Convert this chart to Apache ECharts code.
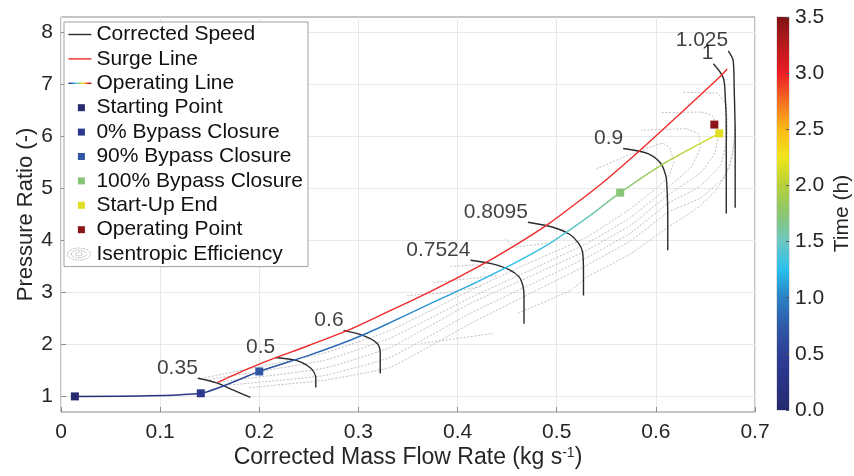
<!DOCTYPE html>
<html><head><meta charset="utf-8">
<script src="https://cdn.jsdelivr.net/npm/echarts@6/dist/echarts.min.js"></script>
<style>html,body{margin:0;padding:0;background:#fff}#c{width:854px;height:476px}</style>
</head><body><div id="c"></div>
<script>
// ---------- tick labels ----------
const X_TICKS = [0, 0.1, 0.2, 0.3, 0.4, 0.5, 0.6, 0.7];
const Y_TICKS = [1, 2, 3, 4, 5, 6, 7, 8];
const TIME_TICKS = [0, 0.5, 1, 1.5, 2, 2.5, 3, 3.5];

// ---------- colormap (time 0..3.5 h, step 0.25 h) ----------
const CMAP = ['#262a6e','#2a3386','#2e3f95','#305aa8','#2c80c4','#29c0ee','#6cc6c3',
              '#8bc66f','#b6d03a','#f0e51c','#fbb917','#f36f22','#ec1c24','#b8191d','#7e1315'];

// ---------- operating line ----------
const OP_X = [0.014, 0.141, 0.200, 0.250, 0.289, 0.322, 0.373, 0.413, 0.453, 0.491, 0.530, 0.564, 0.608, 0.664];
const OP_Y = [1.00, 1.06, 1.48, 1.79, 2.06, 2.33, 2.79, 3.14, 3.52, 3.92, 4.43, 4.92, 5.48, 6.06];
const OP_T = [0, 0.35, 0.70, 0.80, 0.88, 0.95, 1.10, 1.17, 1.25, 1.35, 1.52, 1.72, 1.92, 2.18];

// ---------- surge line ----------
const SURGE_X = [0.158, 0.201, 0.250, 0.289, 0.322, 0.373, 0.426, 0.460, 0.491, 0.520, 0.550, 0.585, 0.620, 0.663, 0.672];
const SURGE_Y = [1.27, 1.63, 1.98, 2.27, 2.56, 3.02, 3.55, 3.93, 4.31, 4.72, 5.17, 5.75, 6.36, 7.12, 7.30];

// ---------- markers [x, y] and their time (h) ----------
const START_POINT = [0.014, 1.00];
const BYPASS_0 = [0.141, 1.06];
const BYPASS_90 = [0.200, 1.48];
const BYPASS_100 = [0.564, 4.92];
const STARTUP_END = [0.664, 6.06];
const OPERATING_POINT = [0.659, 6.23];
const MARKER_NAMES = ['Starting Point','0% Bypass Closure','90% Bypass Closure','100% Bypass Closure','Start-Up End','Operating Point'];
const MARKER_TIMES = [0, 0.35, 0.70, 1.72, 2.18, 3.45];

// ---------- corrected speed lines ----------
const SPEED_LABELS = ['0.35', '0.5', '0.6', '0.7524', '0.8095', '0.9', '1', '1.025'];
const SPEED_035 = [[0.138,1.35],[0.157,1.26],[0.174,1.12],[0.191,0.98]];
const SPEED_05 = [[0.216,1.75],[0.238,1.69],[0.252,1.54],[0.257,1.35],[0.257,1.17]];
const SPEED_06 = [[0.285,2.27],[0.305,2.17],[0.319,2.02],[0.322,1.83],[0.322,1.44]];
const SPEED_07524 = [[0.413,3.62],[0.435,3.55],[0.452,3.44],[0.462,3.30],[0.466,3.12],[0.467,2.92],[0.467,2.40]];
const SPEED_08095 = [[0.471,4.35],[0.497,4.25],[0.513,4.12],[0.522,3.95],[0.526,3.78],[0.527,3.40],[0.527,2.94]];
const SPEED_09 = [[0.567,5.77],[0.592,5.67],[0.605,5.48],[0.610,5.25],[0.611,5.10],[0.612,4.50],[0.612,3.81]];
const SPEED_1 = [[0.658,7.40],[0.668,7.13],[0.670,6.75],[0.671,6.20],[0.671,4.52]];
const SPEED_1025 = [[0.673,7.65],[0.678,7.46],[0.679,6.94],[0.680,6.00],[0.680,4.63]];
const SPEED_CURVES = [SPEED_035, SPEED_05, SPEED_06, SPEED_07524, SPEED_08095, SPEED_09, SPEED_1, SPEED_1025];

// ---------- isentropic efficiency contours ----------
const EFF_1 = [[0.145,1.36],[0.265,1.83],[0.332,2.27],[0.413,3.04],[0.470,3.55],[0.530,4.06],[0.575,4.62],[0.600,5.00],[0.612,5.21],[0.618,5.50],[0.614,5.78],[0.607,5.87],[0.575,5.66],[0.540,5.38]];
const EFF_2 = [[0.150,1.33],[0.265,1.69],[0.332,2.12],[0.413,2.90],[0.470,3.40],[0.530,3.94],[0.575,4.45],[0.612,5.02],[0.635,5.40],[0.645,5.80],[0.643,6.05],[0.630,6.15],[0.585,6.12]];
const EFF_3 = [[0.160,1.28],[0.265,1.54],[0.332,1.94],[0.413,2.79],[0.470,3.28],[0.530,3.81],[0.575,4.30],[0.612,4.87],[0.645,5.30],[0.660,5.70],[0.663,6.10],[0.657,6.40],[0.645,6.47],[0.605,6.46]];
const EFF_4 = [[0.170,1.22],[0.265,1.40],[0.332,1.75],[0.413,2.60],[0.470,3.12],[0.530,3.67],[0.575,4.15],[0.612,4.71],[0.645,5.05],[0.665,5.45],[0.672,6.00],[0.671,6.60],[0.662,6.83],[0.627,6.85]];
const EFF_5 = [[0.190,1.17],[0.265,1.31],[0.332,1.56],[0.413,2.40],[0.470,2.95],[0.530,3.52],[0.575,4.00],[0.612,4.54],[0.645,4.82],[0.668,5.20],[0.677,5.60],[0.680,6.20]];
const EFF_6 = [[0.461,2.60],[0.514,3.04],[0.530,3.29],[0.575,3.75],[0.612,4.25],[0.640,4.60],[0.660,4.95],[0.674,5.40],[0.679,5.92]];
const EFF_7 = [[0.363,2.02],[0.436,2.21]];
const EFF_8 = [[0.349,2.94],[0.390,3.00],[0.425,3.12]];
const EFF_9 = [[0.376,3.19],[0.410,3.26],[0.440,3.33]];
const EFF_10 = [[0.393,3.50],[0.420,3.53],[0.430,3.45]];
const EFF_11 = [[0.448,4.04],[0.457,3.87],[0.490,3.95]];
const EFF_CONTOURS = [EFF_1, EFF_2, EFF_3, EFF_4, EFF_5, EFF_6, EFF_7, EFF_8, EFF_9, EFF_10, EFF_11];

// ---------- helpers ----------
function hexRgb(h){ return [parseInt(h.slice(1,3),16), parseInt(h.slice(3,5),16), parseInt(h.slice(5,7),16)]; }
function cmap(t){
  const f = Math.max(0, Math.min(1, t / 3.5)) * (CMAP.length - 1);
  const i = Math.min(Math.floor(f), CMAP.length - 2), r = f - i;
  const a = hexRgb(CMAP[i]), b = hexRgb(CMAP[i + 1]);
  return 'rgb(' + a.map((v, k) => Math.round(v + (b[k] - v) * r)).join(',') + ')';
}
const FONT = '"Liberation Sans", Arial, Helvetica, sans-serif';
const TXT = '#262626';
const opMin = Math.min(...OP_X), opMax = Math.max(...OP_X);
const opGradient = { type: 'linear', x: 0, y: 0, x2: 1, y2: 0,
  colorStops: OP_X.map((x, i) => ({ offset: (x - opMin) / (opMax - opMin), color: cmap(OP_T[i]) })) };
const cbarGradient = { type: 'linear', x: 0, y: 1, x2: 0, y2: 0,
  colorStops: CMAP.map((c, i) => ({ offset: i / (CMAP.length - 1), color: c })) };
const legendGradient = { type: 'linear', x: 0, y: 0, x2: 1, y2: 0,
  colorStops: CMAP.map((c, i) => ({ offset: i / (CMAP.length - 1), color: c })) };

// ---------- series ----------
const series = [];
EFF_CONTOURS.forEach(c => series.push({
  type: 'line', name: 'Isentropic Efficiency', data: c, symbol: 'none', smooth: 0.12,
  lineStyle: { color: '#b0b0b0', width: 0.8, type: [2, 1.6] }, silent: true, z: 1
}));
SPEED_CURVES.forEach(c => series.push({
  type: 'line', name: 'Corrected Speed', data: c, symbol: 'none', smooth: 0.3,
  lineStyle: { color: '#2b2b2b', width: 1.4 }, silent: true, z: 3
}));
series.push({
  type: 'line', name: 'Surge Line', data: SURGE_X.map((x, i) => [x, SURGE_Y[i]]), symbol: 'none', smooth: 0.3,
  lineStyle: { color: '#ef2b2b', width: 1.4 }, silent: true, z: 4
});
series.push({
  type: 'line', name: 'Operating Line', data: OP_X.map((x, i) => [x, OP_Y[i]]), symbol: 'none', smooth: 0.2,
  lineStyle: { color: opGradient, width: 1.5 }, itemStyle: { color: cmap(1.2) }, silent: true, z: 5
});
[START_POINT, BYPASS_0, BYPASS_90, BYPASS_100, STARTUP_END, OPERATING_POINT].forEach((p, i) => series.push({
  type: 'scatter', name: MARKER_NAMES[i], data: [p], symbol: 'rect', symbolSize: 8,
  itemStyle: { color: cmap(MARKER_TIMES[i]), opacity: 1 }, silent: true, z: 6
}));
series.push({
  type: 'scatter', name: 'speedLabels', data: SPEED_CURVES.map(c => c[0]), symbolSize: 1,
  itemStyle: { color: 'rgba(0,0,0,0)' }, silent: true, z: 7,
  label: { show: true, position: 'inside', align: 'right', verticalAlign: 'bottom',
    formatter: p => SPEED_LABELS[p.dataIndex], fontSize: 21, fontFamily: FONT, color: '#111' }
});
series.push({
  type: 'bar', name: 'colorbar', xAxisIndex: 1, yAxisIndex: 1, data: [TIME_TICKS[TIME_TICKS.length - 1]],
  barWidth: '100%', itemStyle: { color: cbarGradient }, silent: true
});

// ---------- legend ----------
const LINE_ICON = 'path://M0,0M2,6.3H25V7.7H2ZM25,14';
const SQ_ICON = 'path://M0,0M11.5,3.5H18.5V10.5H11.5ZM25,14';
const ELL_ICON = 'path://M0,0M25,14M1,7A11.5,6 0 1,1 24,7A11.5,6 0 1,1 1,7ZM5,7A7.5,3.8 0 1,1 20,7A7.5,3.8 0 1,1 5,7ZM9,7A3.5,1.8 0 1,1 16,7A3.5,1.8 0 1,1 9,7Z';
const legendData = [
  { name: 'Corrected Speed', icon: LINE_ICON, itemStyle: { color: '#2b2b2b', borderWidth: 0, opacity: 1 } },
  { name: 'Surge Line', icon: LINE_ICON, itemStyle: { color: '#ef2b2b', borderWidth: 0, opacity: 1 } },
  { name: 'Operating Line', icon: LINE_ICON, itemStyle: { color: legendGradient, borderWidth: 0, opacity: 1 } }
].concat(MARKER_NAMES.map((n, i) => ({ name: n, icon: SQ_ICON, itemStyle: { color: cmap(MARKER_TIMES[i]), borderWidth: 0, opacity: 1 } })))
 .concat([{ name: 'Isentropic Efficiency', icon: ELL_ICON,
   itemStyle: { color: 'rgba(0,0,0,0)', borderColor: '#8c8c8c', borderWidth: 0.8, borderType: 'dotted', opacity: 1 } }]);

const chart = echarts.init(document.getElementById('c'), null, { renderer: 'canvas' });
chart.setOption({
  animation: false,
  backgroundColor: '#fff',
  textStyle: { fontFamily: FONT },
  grid: [
    { left: 61, right: 99, top: 17, bottom: 64, show: true, borderColor: '#8a8a8a', borderWidth: 1, backgroundColor: 'rgba(0,0,0,0)' },
    { left: 777, width: 12, top: 17, bottom: 66, show: true, borderColor: '#9a9a9a', borderWidth: 0.6 }
  ],
  legend: {
    orient: 'vertical', left: 64, top: 22, padding: [2, 5, 2, 2], itemGap: 3.4,
    itemWidth: 25, itemHeight: 14, backgroundColor: '#fff', borderColor: '#a0a0a0', borderWidth: 1,
    textStyle: { fontSize: 21, fontFamily: FONT, color: '#111', lineHeight: 21 },
    selectedMode: false, data: legendData
  },
  xAxis: [
    { gridIndex: 0, type: 'value', min: X_TICKS[0], max: X_TICKS[X_TICKS.length - 1], interval: 0.1,
      name: 'Corrected Mass Flow Rate (kg s{sup|-1})', nameLocation: 'middle', nameGap: 34, nameMoveOverlap: false,
      nameTextStyle: { fontSize: 23, color: TXT, fontFamily: FONT,
        rich: { sup: { fontSize: 14, verticalAlign: 'top', color: TXT, fontFamily: FONT, padding: [0, 0, 8, 0] } } },
      axisLine: { show: false },
      axisTick: { show: true, inside: true, length: 5, lineStyle: { color: '#8a8a8a' } },
      axisLabel: { fontSize: 21, color: TXT, fontFamily: FONT, margin: 10 },
      splitLine: { show: true, lineStyle: { color: '#e9e9e9', width: 1 } } },
    { gridIndex: 1, type: 'category', data: ['t'], show: false }
  ],
  yAxis: [
    { gridIndex: 0, type: 'value', min: 0.7, max: 8.3,
      name: 'Pressure Ratio (-)', nameLocation: 'middle', nameGap: 24, nameMoveOverlap: false,
      nameTextStyle: { fontSize: 22, color: TXT, fontFamily: FONT },
      axisLine: { show: false },
      axisTick: { show: true, inside: true, length: 5, customValues: Y_TICKS, lineStyle: { color: '#8a8a8a' } },
      axisLabel: { fontSize: 21, color: TXT, fontFamily: FONT, margin: 8, customValues: Y_TICKS },
      splitLine: { show: true, lineStyle: { color: '#e9e9e9', width: 1 } } },
    { gridIndex: 1, type: 'value', position: 'right', min: TIME_TICKS[0], max: TIME_TICKS[TIME_TICKS.length - 1], interval: 0.5,
      name: 'Time (h)', nameLocation: 'middle', nameGap: 43, nameMoveOverlap: false,
      nameTextStyle: { fontSize: 21, color: TXT, fontFamily: FONT },
      axisLine: { show: false }, z: 5,
      axisTick: { show: true, inside: true, length: 3, lineStyle: { color: '#555' } },
      axisLabel: { fontSize: 21, color: TXT, fontFamily: FONT, margin: 6, formatter: v => v.toFixed(1) },
      splitLine: { show: false } }
  ],
  series: series
});
</script></body></html>
